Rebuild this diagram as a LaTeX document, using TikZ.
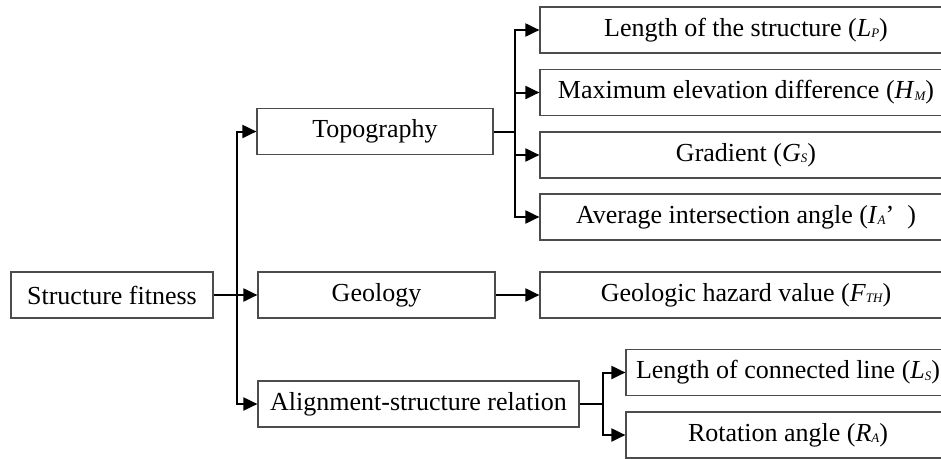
\documentclass[tikz,border=0pt]{standalone}
\usepackage{fontspec}
\setmainfont{Liberation Serif}
\usetikzlibrary{arrows.meta}
\newcommand{\sbs}[1]{\raisebox{-1.5pt}{\fontsize{13}{13}\selectfont\itshape #1}}
\tikzset{
  box/.style={draw=black!70, line width=1.2pt, minimum height=46pt, inner sep=0pt,
    font=\fontsize{26}{30}\selectfont},
  conn/.style={line width=2pt, black},
  arr/.style={conn, -{Triangle[length=14pt,width=13pt]}},
}
\begin{document}
\begin{tikzpicture}[x=1pt,y=-1pt]
\useasboundingbox (0,0) rectangle (941,458);
\clip (0,0) rectangle (941,458);
% level 0
\node[box, minimum width=202pt] (sf) at (112,295) {Structure fitness};
% level 1
\node[box, minimum width=236pt] (topo) at (375,131.5) {Topography};
\node[box, minimum width=237pt] (geo) at (376.5,295) {Geology};
\node[box, minimum width=321pt] (ali) at (418.5,404) {Alignment-structure relation};
% level 2
\node[box, minimum width=412pt] (lp) at (746,30) {Length of the structure (\textit{L}\sbs{P})};
\node[box, minimum width=412pt] (hm) at (746,92.5) {Maximum elevation difference (\textit{H}\sbs{M})};
\node[box, minimum width=412pt] (gs) at (746,155) {Gradient (\textit{G}\sbs{S})};
\node[box, minimum width=412pt] (ia) at (746,217) {Average intersection angle (\textit{I}\sbs{A}’\ \ )};
\node[box, minimum width=412pt] (fth) at (746,295) {Geologic hazard value (\textit{F}\sbs{TH})};
\node[box, minimum width=324pt] (ls) at (788,372.5) {Length of connected line (\textit{L}\sbs{S})};
\node[box, minimum width=324pt] (ra) at (788,435) {Rotation angle (\textit{R}\sbs{A})};
% junction coordinates
\coordinate (t0) at (237,295);
\coordinate (t1) at (515,131.5);
\coordinate (t2) at (603,404);
% connectors
\draw[arr] (sf.east) -- (geo.west);
\draw[arr] (t0) |- (topo.west);
\draw[arr] (t0) |- (ali.west);
\draw[conn] (topo.east) -- (t1);
\draw[arr] (t1) |- (lp.west);
\draw[arr] (t1) |- (hm.west);
\draw[arr] (t1) |- (gs.west);
\draw[arr] (t1) |- (ia.west);
\draw[arr] (geo.east) -- (fth.west);
\draw[conn] (ali.east) -- (t2);
\draw[arr] (t2) |- (ls.west);
\draw[arr] (t2) |- (ra.west);
\end{tikzpicture}
\end{document}
